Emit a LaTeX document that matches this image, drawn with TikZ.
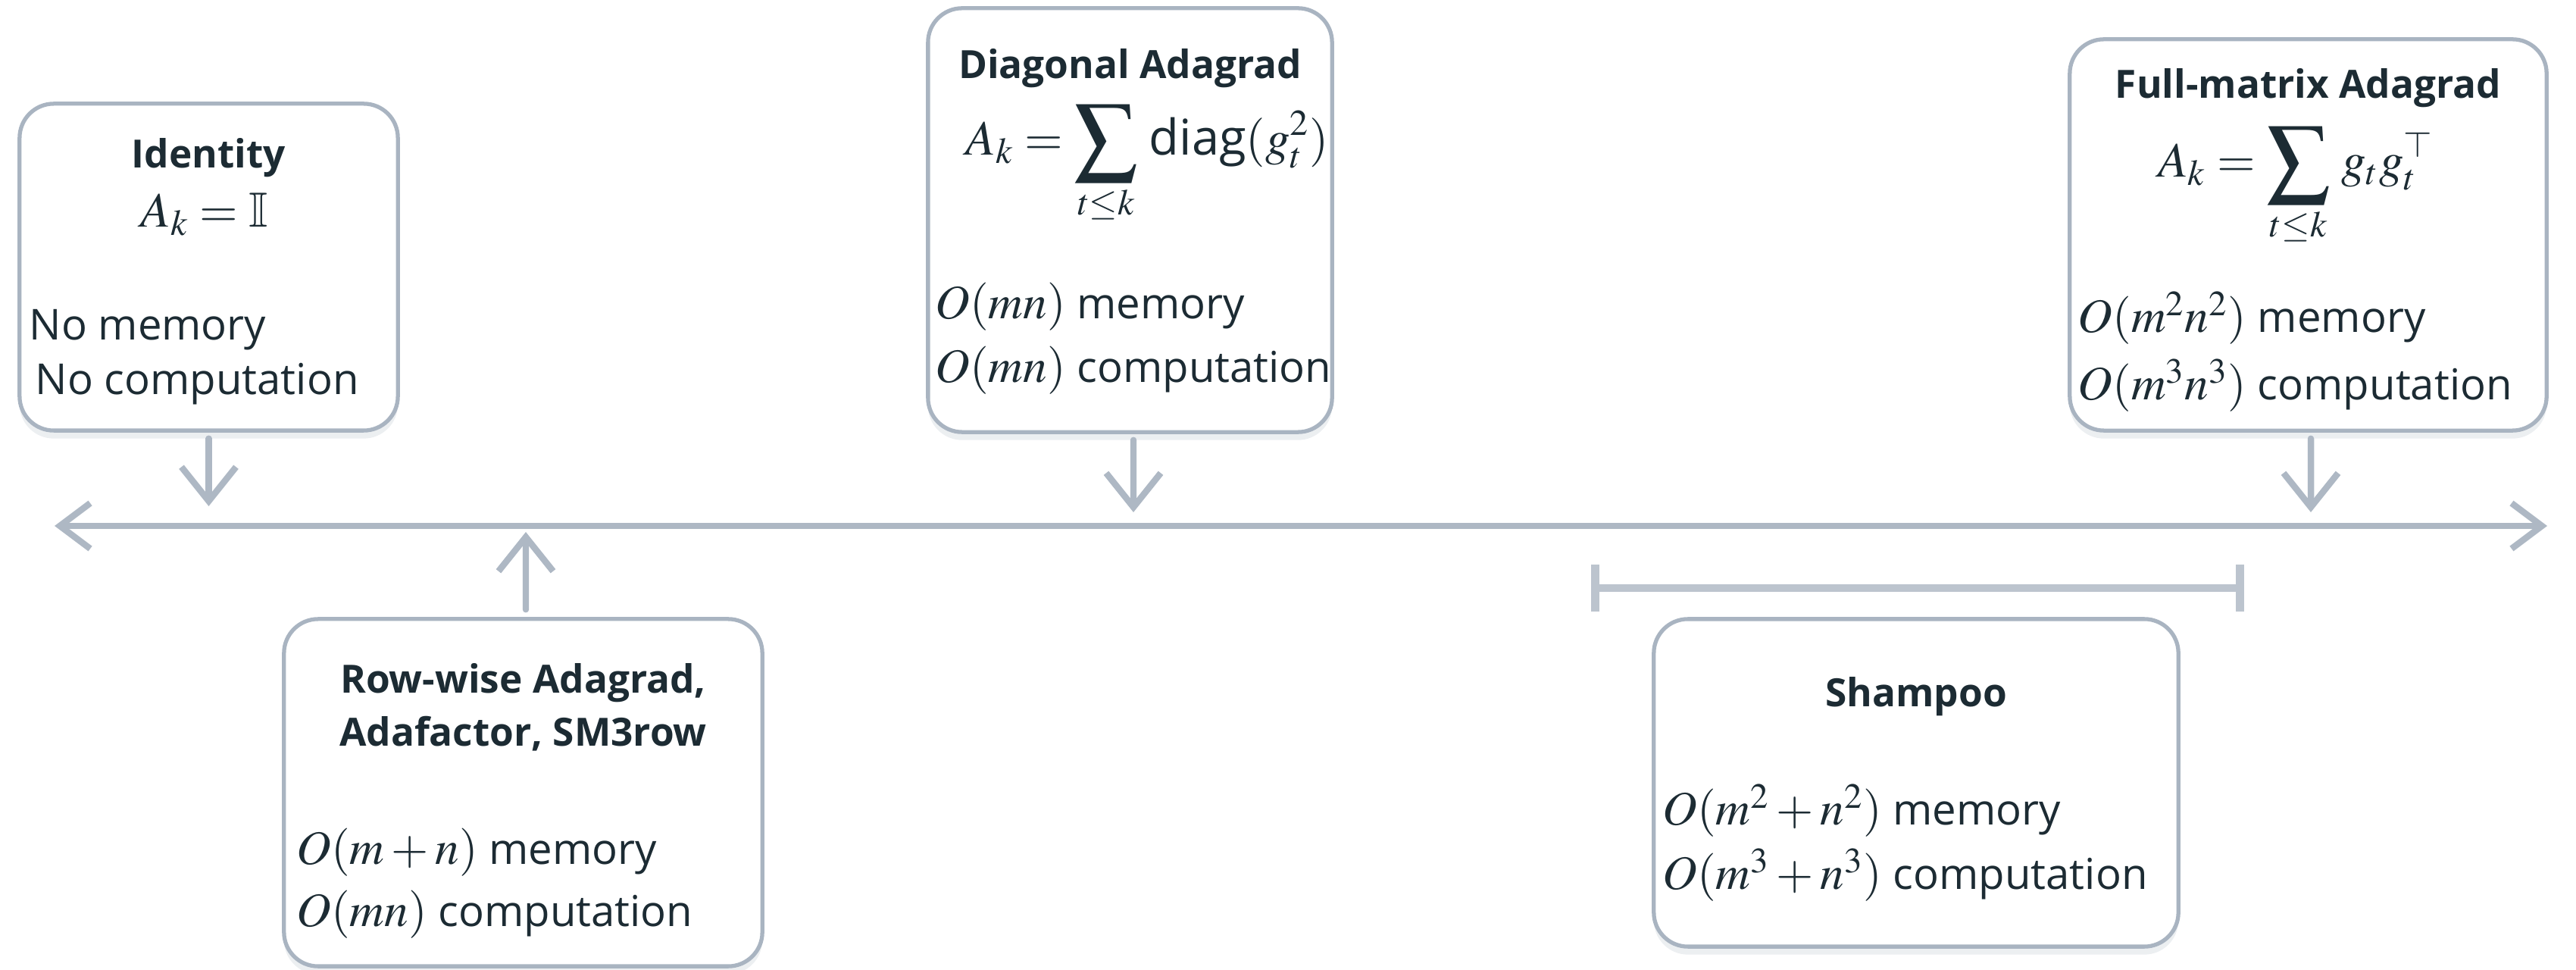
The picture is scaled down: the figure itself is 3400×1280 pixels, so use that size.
\documentclass[tikz,border=0pt]{standalone}
\usepackage{amsmath}
\usepackage{mathptmx}
\usepackage{amssymb}
\usepackage{graphicx}
\usepackage{fontspec}
\setmainfont{Open Sans}
\usetikzlibrary{arrows.meta,shadows}
\definecolor{boxline}{HTML}{A9B4C1}
\definecolor{ink}{HTML}{1C2B33}
\definecolor{conncol}{HTML}{AEB8C4}
\definecolor{brackcol}{HTML}{BCC4CE}
\newcommand{\mymath}[1]{{\fontsize{18}{20}\selectfont$#1$}}
\newcommand{\bigsum}{\mathop{\vcenter{\hbox{\scalebox{1.27}{$\displaystyle\sum$}}}}\limits}
\tikzset{
  card/.style={draw=boxline, line width=1.5pt, rounded corners=0.45cm, fill=white,
    drop shadow={shadow xshift=0pt, shadow yshift=-3pt, opacity=0.22, fill=boxline}},
  ttl/.style={font=\bfseries\fontsize{14.6}{17}\selectfont, text=ink, inner sep=0pt, anchor=base},
  frm/.style={font=\fontsize{18.5}{21}\selectfont, text=ink, inner sep=0pt, anchor=base},
  txt/.style={font=\fontsize{16}{19}\selectfont, text=ink, inner sep=0pt, anchor=base west},
  conn/.style={draw=conncol, line width=2.4pt, line cap=round},
  arrowhd/.style={-{Straight Barb[length=0.45cm,width=0.72cm]}},
}
\begin{document}
\begin{tikzpicture}[x=0.01cm,y=-0.01cm]
\useasboundingbox (0,0) rectangle (3400,1280);

% main axis
\coordinate (axL) at (72,694);
\coordinate (axR) at (3362,694);
\draw[conn, {Straight Barb[length=0.4cm,width=0.6cm]}-{Straight Barb[length=0.4cm,width=0.6cm]}] (axL) -- (axR);

% boxes
\node[card, minimum width=4.99cm, minimum height=4.31cm] (idbox) at (275.5,352.5) {};
\node[card, minimum width=5.33cm, minimum height=5.59cm] (dgbox) at (1491.5,290.5) {};
\node[card, minimum width=6.29cm, minimum height=5.16cm] (fmbox) at (3046.5,310) {};
\node[card, minimum width=6.31cm, minimum height=4.58cm] (rwbox) at (690.5,1046) {};
\node[card, minimum width=6.92cm, minimum height=4.32cm] (shbox) at (2529,1033) {};

% Identity
\node[ttl] (idt) at (275.5,222) {Identity};
\node[frm] (idf) at (270,300) {$A_k=\mathbb{I}$};
\node[txt] (id1) at (38,449) {No memory};
\node[txt] (id2) at (46,521) {No computation};

% Diagonal Adagrad
\node[ttl] (dgt) at (1491.5,104) {Diagonal Adagrad};
\node[frm] (dgf) at (1514,205) {$\displaystyle A_k=\bigsum_{t\le k}\,\text{diag}(g_t^2)$};
\node[txt] (dg1) at (1234,421) {\mymath{O(mn)} memory};
\node[txt] (dg2) at (1234,505) {\mymath{O(mn)} computation};

% Full-matrix Adagrad
\node[ttl] (fmt) at (3046.5,130) {Full-matrix Adagrad};
\node[frm] (fmf) at (3030,234) {$\displaystyle A_k=\bigsum_{t\le k}\,g_tg_t^{\top}$};
\node[txt] (fm1) at (2742,439) {\mymath{O(m^2n^2)} memory};
\node[txt] (fm2) at (2742,528) {\mymath{O(m^3n^3)} computation};

% Row-wise
\node[ttl] (rwt1) at (690.5,915) {Row-wise Adagrad,};
\node[ttl] (rwt2) at (690.5,985) {Adafactor, SM3row};
\node[txt] (rw1) at (391,1140) {\mymath{O(m+n)} memory};
\node[txt] (rw2) at (391,1222) {\mymath{O(mn)} computation};

% Shampoo
\node[ttl] (sht) at (2529,933) {Shampoo};
\node[txt] (sh1) at (2194,1089) {\mymath{O(m^2+n^2)} memory};
\node[txt] (sh2) at (2194,1174) {\mymath{O(m^3+n^3)} computation};

% connectors
\coordinate (idtip) at (275.5,668);
\coordinate (dgtip) at (1496,676);
\coordinate (fmtip) at (3050,676);
\coordinate (rwtip) at (694,702);
\draw[conn, arrowhd] ([yshift=-0.08cm]idbox.south) -- (idtip);
\draw[conn, arrowhd] ([xshift=0.045cm,yshift=-0.08cm]dgbox.south) -- (dgtip);
\draw[conn, arrowhd] ([xshift=0.035cm,yshift=-0.08cm]fmbox.south) -- (fmtip);
\draw[conn, arrowhd] ([xshift=0.035cm,yshift=0.1cm]rwbox.north) -- (rwtip);

% Shampoo range bracket
\coordinate (brL) at (2100,776);
\coordinate (brR) at (2962,776);
\draw[draw=brackcol, line width=3pt, {Bar[width=0.62cm]}-{Bar[width=0.62cm]}] (brL) -- (brR);
\end{tikzpicture}
\end{document}
